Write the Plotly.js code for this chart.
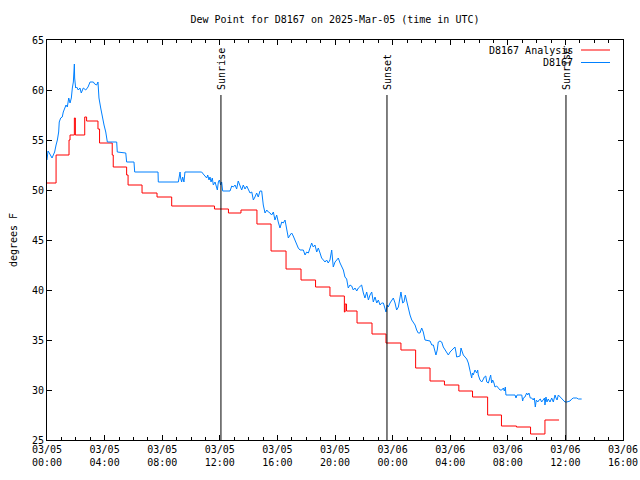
<!DOCTYPE html>
<html>
<head>
<meta charset="utf-8">
<script src="https://cdn.plot.ly/plotly-3.0.1.min.js"></script>
<style>html,body{margin:0;padding:0;background:#fff;}#chart{width:640px;height:480px;}</style>
</head>
<body>
<div id="chart"></div>
<script>
// Hours since 2025-03-05 00:00 UTC
var analysisHours = [0, 0.63, 1.53, 1.6, 1.9, 1.97, 2.62, 2.75, 3.54, 3.65, 4.53, 4.6, 5.53, 5.63, 6.6, 7.64, 8.66, 11.63, 12.6, 13.47, 14.58, 15.56, 16.6, 17.64, 18.65, 19.65, 20.65, 20.7, 20.8, 21.53, 22.57, 23.54, 24.58, 25.6, 26.6, 27.6, 28.6, 29.55, 30.6, 31.56, 32.6, 33.58, 34.58, 35.56];
var analysisValues = [50.7, 53.5, 55.0, 55.5, 57.2, 55.5, 57.3, 56.9, 56.1, 54.7, 53.5, 52.3, 51.5, 50.5, 49.7, 49.3, 48.4, 48.1, 47.7, 48.0, 46.6, 43.9, 42.1, 41.0, 40.3, 39.4, 37.8, 38.6, 37.9, 36.7, 35.6, 34.7, 34.0, 32.2, 30.9, 30.5, 29.9, 29.3, 27.5, 26.4, 26.3, 25.6, 27.0, 27.0];

var obsHours = [0, 0.07, 0.16, 0.26, 0.35, 0.44, 0.53, 0.63, 0.72, 0.81, 0.85, 0.95, 1.06, 1.13, 1.23, 1.32, 1.41, 1.51, 1.6, 1.69, 1.76, 1.83, 1.9, 1.92, 1.99, 2.06, 2.17, 2.29, 2.38, 2.52, 2.69, 2.85, 2.99, 3.22, 3.31, 3.45, 3.54, 3.61, 3.73, 3.84, 3.96, 4.08, 4.19, 4.84, 4.88, 5.47, 5.53, 6.04, 6.09, 7.71, 7.73, 9.12, 9.24, 9.28, 9.35, 9.42, 9.51, 9.58, 10.74, 10.85, 10.97, 11.09, 11.16, 11.25, 11.32, 11.39, 11.48, 11.55, 11.67, 11.74, 11.83, 11.9, 11.97, 12.06, 12.13, 12.2, 12.71, 12.83, 12.94, 13.06, 13.17, 13.28, 13.4, 13.52, 13.63, 13.75, 13.87, 13.98, 14.1, 14.22, 14.33, 14.44, 14.56, 14.67, 14.79, 14.91, 15.02, 15.14, 15.26, 15.37, 15.49, 15.6, 15.72, 15.83, 15.95, 16.06, 16.18, 16.3, 16.41, 16.53, 16.65, 16.76, 16.88, 16.99, 17.1, 17.22, 17.34, 17.45, 17.57, 17.69, 17.8, 17.92, 18.03, 18.15, 18.26, 18.38, 18.49, 18.61, 18.73, 18.84, 18.96, 19.07, 19.19, 19.31, 19.42, 19.53, 19.65, 19.77, 19.88, 20.0, 20.12, 20.23, 20.35, 20.47, 20.58, 20.69, 20.81, 20.92, 21.04, 21.16, 21.27, 21.39, 21.51, 21.62, 21.74, 21.85, 21.97, 22.08, 22.2, 22.32, 22.43, 22.55, 22.66, 22.78, 22.9, 23.01, 23.13, 23.24, 23.36, 23.47, 23.54, 23.63, 23.7, 23.82, 23.94, 24.05, 24.17, 24.28, 24.4, 24.51, 24.58, 24.7, 24.79, 24.88, 24.98, 25.09, 25.21, 25.33, 25.44, 25.56, 25.67, 25.78, 25.9, 26.02, 26.13, 26.25, 26.6, 26.72, 26.83, 26.94, 27.01, 27.1, 27.17, 27.29, 27.41, 27.52, 27.64, 27.76, 27.87, 27.99, 28.1, 28.22, 28.33, 28.4, 28.45, 28.68, 28.75, 28.84, 28.91, 29.03, 29.15, 29.26, 29.38, 29.49, 29.54, 29.6, 29.72, 29.84, 29.91, 29.95, 30.07, 30.19, 30.31, 30.37, 30.47, 30.54, 30.65, 30.72, 30.81, 30.88, 30.95, 31.04, 31.11, 31.23, 31.34, 31.46, 31.58, 31.69, 31.76, 31.83, 31.87, 32.5, 32.57, 32.64, 32.97, 33.03, 33.08, 33.19, 33.31, 33.38, 33.47, 33.56, 33.66, 33.77, 33.84, 33.91, 33.98, 34.08, 34.17, 34.26, 34.35, 34.47, 34.55, 34.58, 34.65, 34.72, 34.81, 34.93, 35.05, 35.16, 35.28, 35.35, 35.42, 35.51, 35.63, 35.74, 35.86, 35.97, 36.09, 36.32, 36.44, 36.55, 36.79, 36.9, 37.13];
var obsValues = [53.0, 53.9, 53.7, 53.5, 53.2, 53.5, 53.8, 54.5, 55.0, 55.8, 56.8, 57.2, 57.3, 57.8, 58.3, 58.5, 58.3, 59.2, 58.7, 59.2, 60.2, 60.8, 62.6, 61.2, 60.2, 60.3, 60.0, 60.2, 59.7, 60.2, 60.0, 60.3, 60.8, 60.8, 60.6, 60.5, 60.8, 59.2, 58.2, 57.2, 56.5, 55.8, 54.8, 54.8, 53.8, 53.7, 52.8, 52.8, 51.8, 51.8, 50.8, 50.8, 51.8, 51.2, 50.8, 51.3, 50.8, 51.8, 51.8, 51.6, 51.4, 51.2, 51.5, 51.0, 51.3, 50.8, 51.2, 50.5, 50.8, 50.5, 50.0, 50.8, 51.0, 50.5, 50.8, 49.9, 49.9, 50.4, 50.3, 50.5, 50.1, 50.9, 50.4, 50.0, 50.5, 50.1, 50.4, 50.0, 49.7, 49.8, 49.0, 49.3, 49.7, 49.3, 49.9, 49.9, 48.5, 47.7, 48.0, 47.8, 47.7, 47.5, 47.8, 47.0, 47.5, 46.8, 46.2, 46.8, 46.7, 47.0, 46.0, 45.2, 45.5, 45.7, 45.4, 45.0, 44.5, 44.2, 44.0, 44.0, 44.0, 43.5, 43.8, 43.7, 44.2, 44.7, 44.3, 44.5, 43.8, 44.2, 43.7, 43.2, 43.0, 42.8, 43.0, 42.7, 43.0, 44.0, 42.3, 42.8, 43.0, 43.2, 42.7, 42.3, 42.0, 41.3, 41.1, 40.2, 40.5, 40.4, 40.0, 40.2, 39.9, 40.2, 40.4, 40.5, 39.7, 39.2, 39.8, 39.0, 39.5, 39.8, 38.8, 39.3, 38.7, 39.0, 38.5, 38.7, 38.7, 38.2, 37.8, 38.5, 38.3, 38.7, 39.0, 39.2, 38.7, 38.0, 38.3, 39.3, 39.8, 38.7, 38.8, 39.5, 38.8, 38.0, 37.5, 37.0, 36.8, 36.5, 36.0, 35.7, 35.7, 36.2, 35.8, 35.0, 34.9, 34.5, 34.5, 34.0, 33.5, 34.0, 34.8, 34.9, 34.8, 34.3, 34.0, 33.8, 33.5, 33.8, 34.0, 34.2, 34.3, 33.8, 33.3, 33.4, 34.2, 33.8, 33.5, 33.3, 33.1, 32.7, 31.8, 31.2, 31.7, 31.5, 32.0, 31.7, 32.0, 31.5, 31.0, 30.8, 31.1, 31.3, 31.4, 30.8, 30.7, 31.2, 31.5, 30.7, 31.0, 30.7, 30.3, 30.4, 30.2, 30.0, 30.0, 30.2, 29.9, 30.3, 29.5, 29.5, 29.2, 29.5, 29.5, 28.9, 29.2, 29.3, 29.7, 29.5, 29.7, 29.2, 29.2, 29.0, 29.2, 28.3, 29.0, 28.8, 29.0, 29.1, 28.8, 29.1, 29.2, 28.5, 29.3, 28.8, 29.1, 28.8, 29.2, 28.8, 29.5, 29.2, 29.0, 29.5, 29.3, 29.2, 29.0, 28.8, 28.8, 28.9, 29.1, 29.2, 29.2, 29.1, 29.1];

var sunEventHours = [12.08, 23.61, 36.04];
var sunEventLabels = ["Sunrise", "Sunset", "Sunrise"];
var seriesNames = ["D8167 Analysis", "D8167"];
var seriesColors = ["#ff0000", "#0080ff"];

var BASE = Date.UTC(2025, 2, 5, 0, 0, 0);
function pad(n){ return (n < 10 ? "0" : "") + n; }
function toDate(h){
  var d = new Date(BASE + Math.round(h * 3600000));
  return d.getUTCFullYear() + "-" + pad(d.getUTCMonth() + 1) + "-" + pad(d.getUTCDate()) + " " +
         pad(d.getUTCHours()) + ":" + pad(d.getUTCMinutes()) + ":" + pad(d.getUTCSeconds());
}

var FONT = "DejaVu Sans Mono, Liberation Mono, monospace";

var traces = [
  {x: analysisHours.map(toDate), y: analysisValues, type: "scatter", mode: "lines",
   line: {color: seriesColors[0], width: 1, shape: "hv"}, name: seriesNames[0], showlegend: false},
  {x: obsHours.map(toDate), y: obsValues, type: "scatter", mode: "lines",
   line: {color: seriesColors[1], width: 1}, name: seriesNames[1], showlegend: false}
];

var shapes = [];
var annotations = [];
sunEventHours.forEach(function(h, i){
  shapes.push({type: "line", xref: "x", yref: "y", x0: toDate(h), x1: toDate(h), y0: 25, y1: 59.5,
               line: {color: "#000", width: 1}});
  annotations.push({xref: "x", yref: "y", x: toDate(h), y: 59.8, text: sunEventLabels[i],
                    textangle: -90, showarrow: false, xanchor: "center", yanchor: "bottom",
                    font: {family: FONT, size: 10, color: "#000"}});
});
// Legend (text right-aligned, sample line on the right, gnuplot style)
seriesNames.forEach(function(n, i){
  var yy = 1 - (50 + i * 12.5 - 40) / 400;
  annotations.push({xref: "paper", yref: "paper", x: (575 - 47) / 576, y: yy, text: n,
                    showarrow: false, xanchor: "right", yanchor: "middle",
                    font: {family: FONT, size: 10, color: "#000"}});
  shapes.push({type: "line", xref: "paper", yref: "paper", x0: (581 - 47) / 576, x1: (610 - 47) / 576,
               y0: yy, y1: yy, line: {color: seriesColors[i], width: 1}});
});

var layout = {
  width: 640, height: 480,
  margin: {l: 47, r: 17, t: 40, b: 40, pad: 0},
  paper_bgcolor: "#fff", plot_bgcolor: "#fff",
  font: {family: FONT, size: 10, color: "#000"},
  title: {text: "Dew Point for D8167 on 2025-Mar-05 (time in UTC)", x: 0.5, xanchor: "center",
          xref: "paper", y: 1 - 19 / 480, yref: "container", yanchor: "middle",
          font: {family: FONT, size: 10, color: "#000"}},
  showlegend: false,
  xaxis: {
    type: "date", range: [toDate(0), toDate(40)], dtick: 4 * 3600000, tick0: toDate(0),
    tickformat: "%m/%d<br>%H:%M", ticks: "inside", ticklen: 5, tickcolor: "#000",
    showline: true, linecolor: "#000", linewidth: 1, mirror: "ticks", showgrid: false, zeroline: false,
    tickfont: {family: FONT, size: 10, color: "#000"},
    minor: {dtick: 3600000, ticks: "inside", ticklen: 3, tickcolor: "#000", showgrid: false}
  },
  yaxis: {
    range: [25, 65], dtick: 5, ticks: "inside", ticklen: 5, tickcolor: "#000",
    showline: true, linecolor: "#000", linewidth: 1, mirror: "ticks", showgrid: false, zeroline: false,
    tickfont: {family: FONT, size: 10, color: "#000"},
    title: {text: "degrees F", standoff: 12, font: {family: FONT, size: 10, color: "#000"}}
  },
  shapes: shapes,
  annotations: annotations
};

Plotly.newPlot("chart", traces, layout, {displayModeBar: false, staticPlot: true});
</script>
</body>
</html>
